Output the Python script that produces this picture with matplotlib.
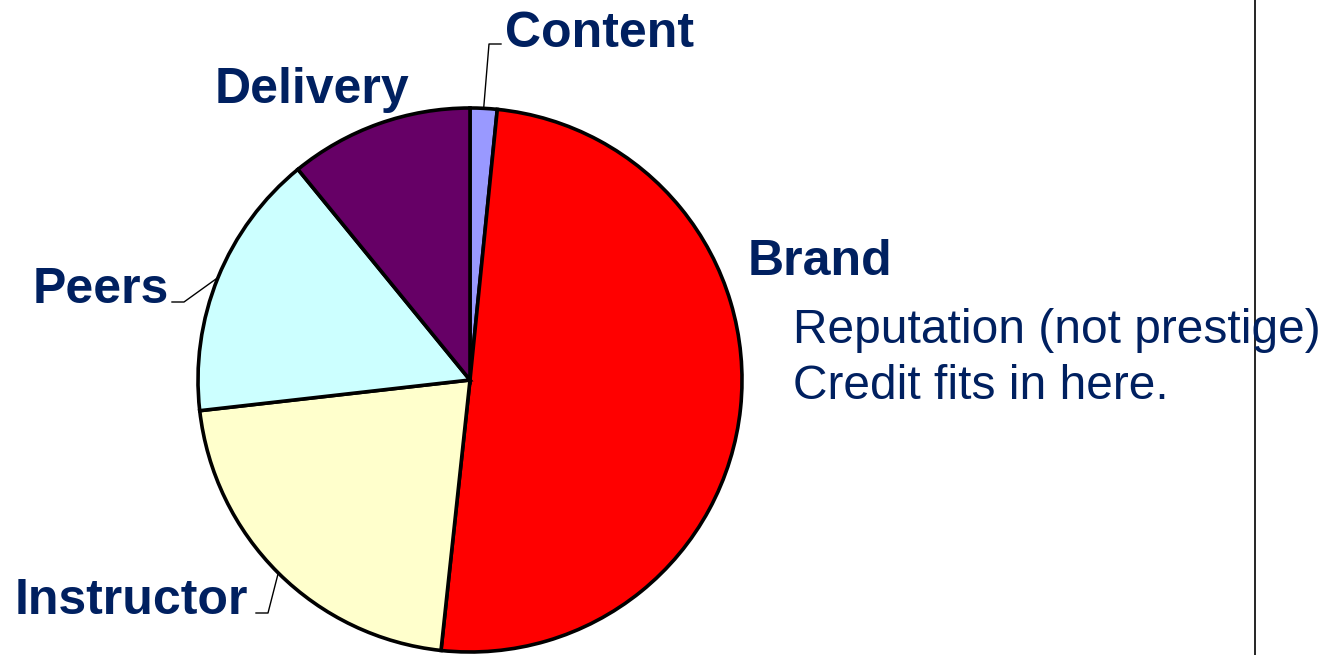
import matplotlib.pyplot as plt
import numpy as np

W, H = 1336, 655

labels = ["Content", "Brand", "Instructor", "Peers", "Delivery"]
shares = [1.6, 50.1, 21.5, 15.9, 10.9]           # percent, clockwise from top
colors = ["#9999FF", "#FF0000", "#FFFFCC", "#CCFFFF", "#660066"]

note_lines = ["Reputation (not prestige)", "Credit fits in here."]

navy = "#002060"
plt.rcParams['font.family'] = ['Liberation Sans', 'DejaVu Sans']

fig = plt.figure(figsize=(W / 100, H / 100), dpi=100)
ax = fig.add_axes([0, 0, 1, 1])
ax.set_xlim(0, W)
ax.set_ylim(0, H)
ax.set_aspect('equal')
ax.axis('off')

cx, cy, r = 470, H - 380, 272
wedges, _ = ax.pie(shares, colors=colors, startangle=90, counterclock=False,
                   center=(cx, cy), radius=r,
                   wedgeprops=dict(edgecolor='black', linewidth=2.6))
ax.set_xlim(0, W)
ax.set_ylim(0, H)

# label anchor (left, baseline) in image pixels, plus optional leader elbow
label_pos = {
    "Content":    (505, 47),
    "Brand":      (748, 275),
    "Instructor": (15, 614),
    "Peers":      (33, 303),
    "Delivery":   (215, 103),
}
leaders = {
    "Content":    [(489, 44), (501, 44)],
    "Peers":      [(184, 302), (172, 302)],
    "Instructor": [(268, 613), (256, 613)],
}

for w, lab in zip(wedges, labels):
    x, y = label_pos[lab]
    ax.text(x, H - y, lab, color=navy, fontsize=36, fontweight='bold',
            ha='left', va='baseline')
    if lab in leaders:
        ang = np.deg2rad((w.theta1 + w.theta2) / 2)
        pts = [(cx + r * np.cos(ang), cy + r * np.sin(ang))]
        pts += [(px, H - py) for px, py in leaders[lab]]
        xs, ys = zip(*pts)
        ax.plot(xs, ys, color='black', linewidth=1.0)

for i, line in enumerate(note_lines):
    ax.text(793, H - 343 - 56 * i, line, color=navy, fontsize=34.5,
            ha='left', va='baseline')

ax.plot([1255, 1255], [0, H], color='black', linewidth=1.2)

fig.savefig("out.png", dpi=100)
